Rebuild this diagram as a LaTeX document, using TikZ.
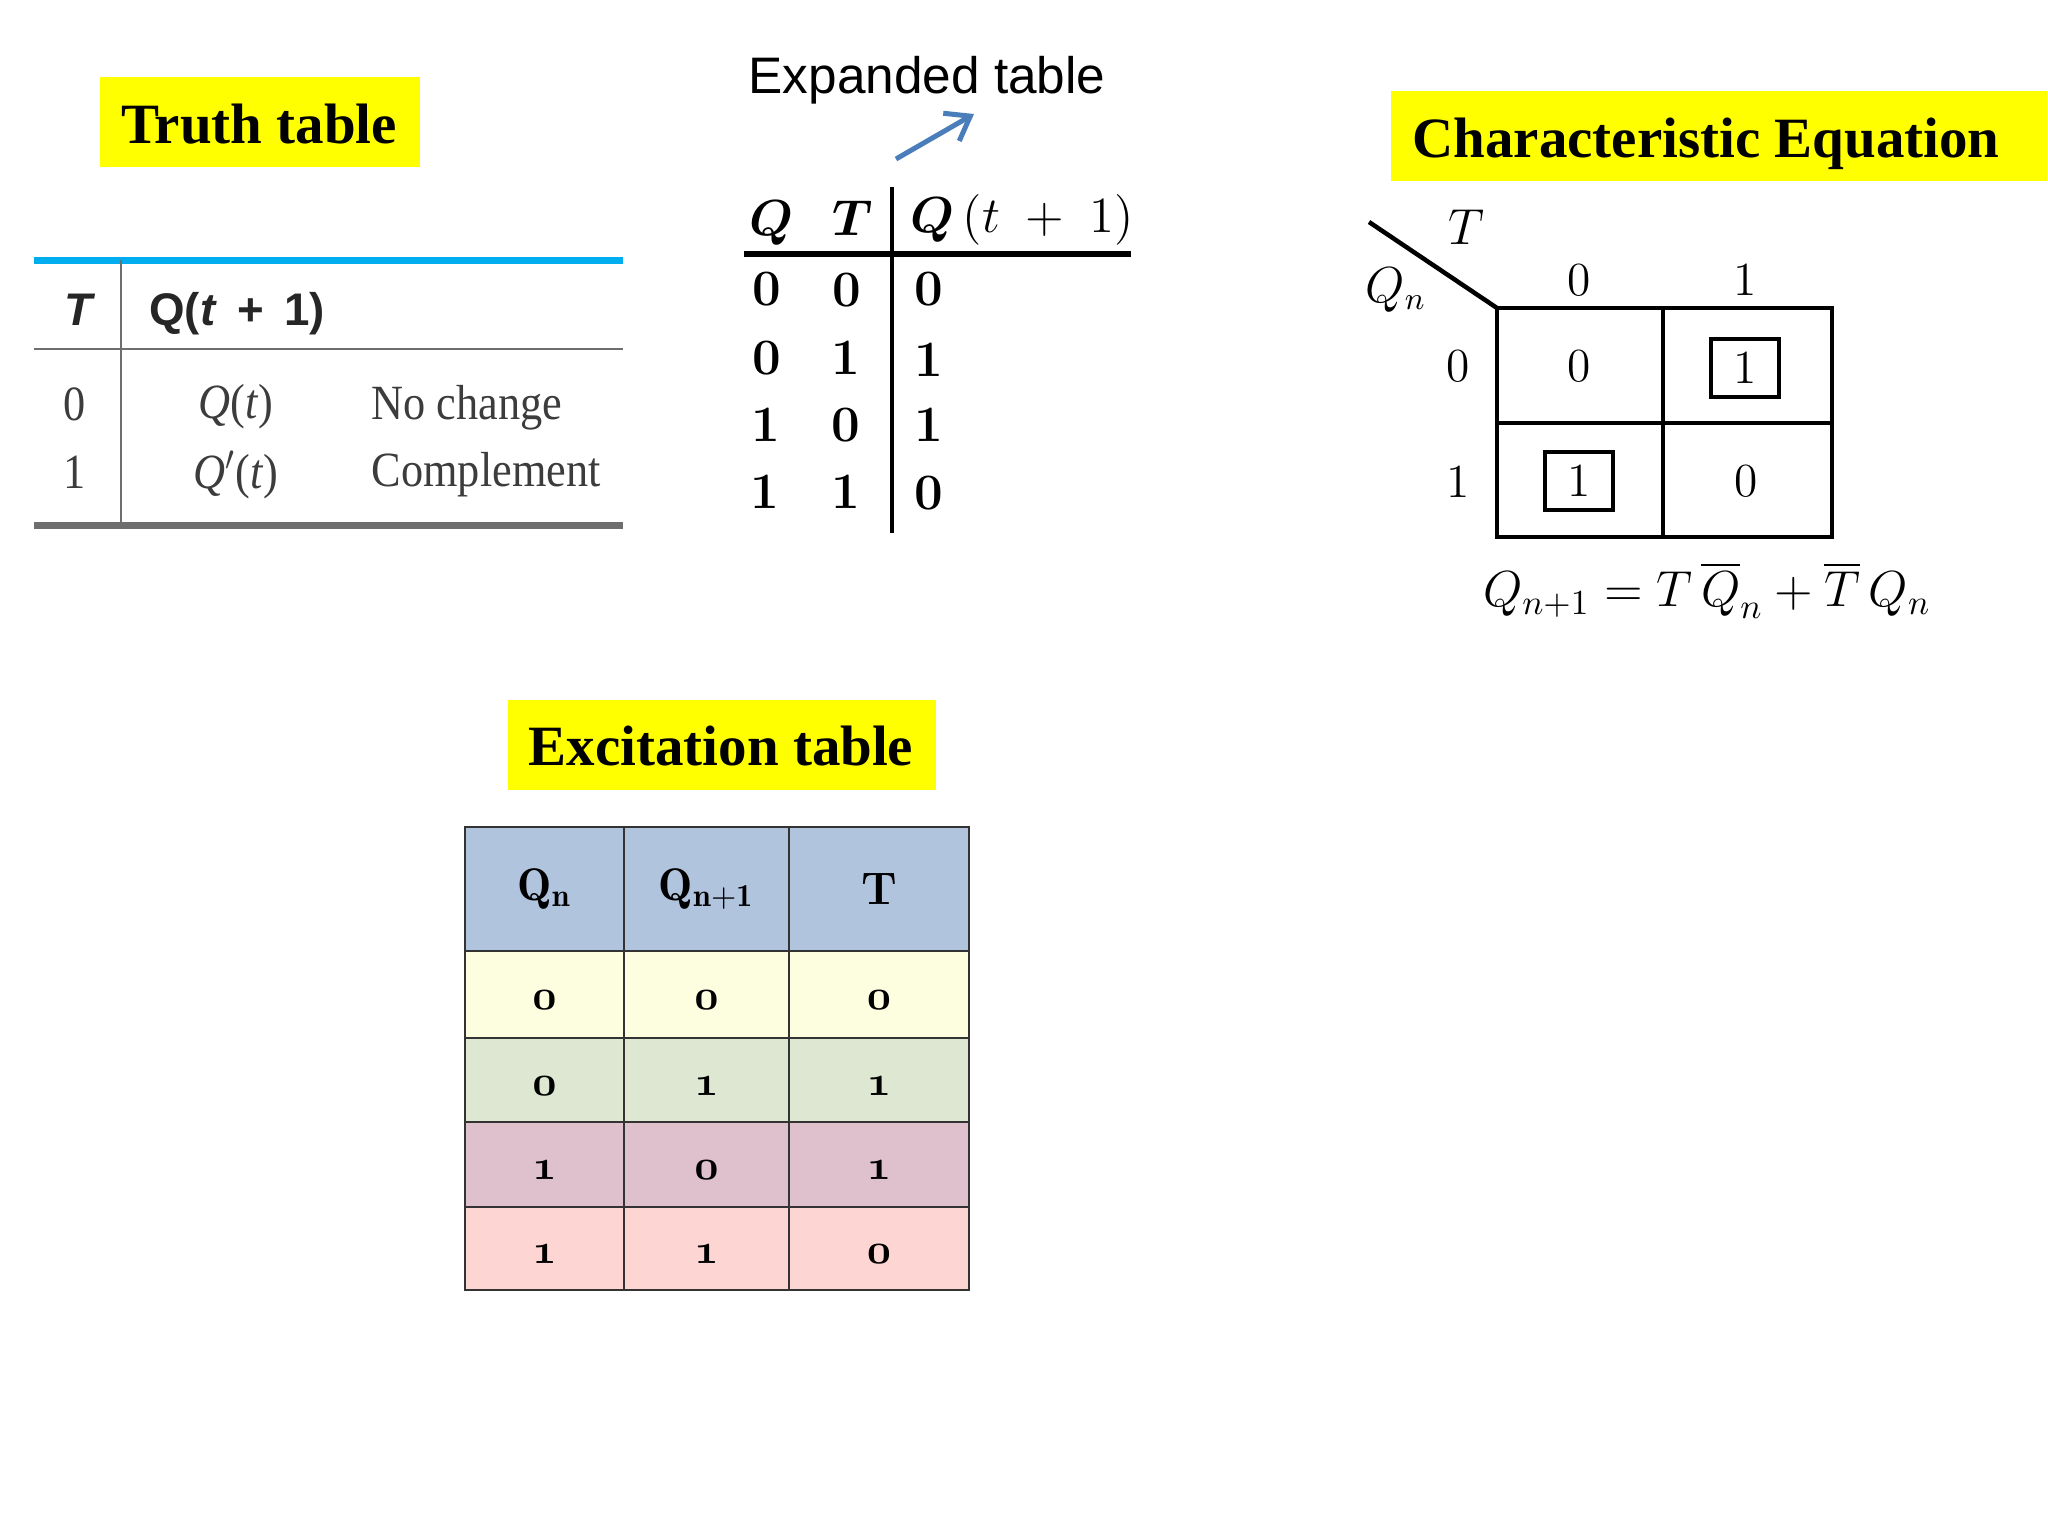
\documentclass[tikz,border=0pt]{standalone}
\usepackage{fontspec}
\usepackage{amsmath}
\newfontfamily\timesfont{Liberation Serif}
\newfontfamily\arialfont{Liberation Sans}
\newcommand{\oldnum}[1]{\rule{0pt}{3mm}{\fontencoding{OML}\fontfamily{cmm}\fontseries{b}\fontshape{it}\selectfont #1}}
\newcommand{\narrowtext}[1]{\scalebox{0.9}[1]{#1}}
\usetikzlibrary{arrows.meta,calc,positioning}
\definecolor{titleyellow}{RGB}{255,255,0}
\definecolor{headblue}{HTML}{B0C4DE}
\definecolor{rowyellow}{HTML}{FDFEE0}
\definecolor{rowgreen}{HTML}{DDE7D1}
\definecolor{rowmauve}{HTML}{DFC1CD}
\definecolor{rowpink}{HTML}{FDD5D3}
\definecolor{tablecyan}{HTML}{00AEEF}
\definecolor{tablegray}{HTML}{6E6E6E}
\definecolor{arrowblue}{HTML}{4A7EBB}
\definecolor{truthtext}{HTML}{3C3C3C}
\tikzset{
  titlebox/.style={fill=titleyellow,inner sep=0pt,font=\timesfont\bfseries\fontsize{16.2}{18}\selectfont},
  truthcell/.style={inner sep=0pt,text=truthtext,font=\timesfont\fontsize{14}{16}\selectfont},
  truthhead/.style={inner sep=0pt,text=black!85,font=\arialfont\bfseries\fontsize{13}{15}\selectfont},
  expdigit/.style={inner sep=0pt,font=\bfseries\fontsize{14.5}{16}\selectfont},
  kmdigit/.style={inner sep=0pt,font=\fontsize{13.5}{15}\selectfont},
  kmbox/.style={draw,line width=0.4mm,minimum width=0.68cm,minimum height=0.57cm,inner sep=0pt,font=\fontsize{13.5}{15}\selectfont},
  exccell/.style={draw=black!80,line width=0.2mm,inner sep=0pt,font=\bfseries\fontsize{13}{15}\selectfont}
}
\begin{document}
\begin{tikzpicture}[x=0.01cm,y=-0.01cm]
  \useasboundingbox (0,0) rectangle (2048,1536);

  \node[titlebox,minimum width=3.2cm,minimum height=0.9cm] (truthtitle) at (260,122) {};
  \node[titlebox,fill=none] (truthtext) at (259,124) {Truth table};
  \coordinate (truthtopL) at (34,260);
  \coordinate (truthtopR) at (623,260);
  \coordinate (truthmidL) at (34,349);
  \coordinate (truthmidR) at (623,349);
  \coordinate (truthbotL) at (34,525);
  \coordinate (truthbotR) at (623,525);
  \coordinate (truthvtop) at (121,260);
  \coordinate (truthvbot) at (121,525);
  \draw[tablecyan,line width=0.7mm] (truthtopL) -- (truthtopR);
  \draw[tablegray,line width=0.25mm] (truthmidL) -- (truthmidR);
  \draw[tablegray,line width=0.7mm] (truthbotL) -- (truthbotR);
  \draw[tablegray,line width=0.25mm] (truthvtop) -- (truthvbot);
  \node[truthhead] (truthT) at (78,310) {\itshape T};
  \node[truthhead] (truthQ) at (237,314) {Q(\textit{t}\, +\, 1)};
  \node[truthcell] (truthA) at (75,404) {\narrowtext{0}};
  \node[truthcell] (truthB) at (236,407) {\narrowtext{\textit{Q}(\textit{t})}};
  \node[truthcell,anchor=west] (truthC) at (371,408) {\narrowtext{No change}};
  \node[truthcell] (truthD) at (75,472) {\narrowtext{1}};
  \node[truthcell] (truthE) at (236,475) {\narrowtext{\textit{Q}$'$(\textit{t})}};
  \node[truthcell,anchor=west] (truthF) at (371,475) {\narrowtext{Complement}};

  \node[inner sep=0pt,font=\arialfont\fontsize{14.6}{16}\selectfont] (exptitle) at (927,80) {Expanded table};
  \coordinate (exparrowA) at (896,159);
  \coordinate (exparrowB) at (974,114);
  \draw[-{Straight Barb[length=2.2mm,width=3.2mm]},arrowblue,line width=0.5mm] (exparrowA) -- (exparrowB);
  \coordinate (expvtop) at (892,187);
  \coordinate (expvbot) at (892,533);
  \coordinate (exphL) at (744,254);
  \coordinate (exphR) at (1131,254);
  \draw[line width=0.45mm] (expvtop) -- (expvbot);
  \draw[line width=0.55mm] (exphL) -- (exphR);
  \node[expdigit] (expQ) at (771,223) {$\boldsymbol{Q}$};
  \node[expdigit] (expT) at (853,218) {$\boldsymbol{T}$};
  \node[inner sep=0pt,font=\fontsize{14.5}{16}\selectfont] (expN) at (1022,220) {$\boldsymbol{Q}\,(t\;+\;1)$};
  \node[expdigit] (expA) at (767,289) {0};
  \node[expdigit] (expB) at (847,290) {0};
  \node[expdigit] (expC) at (929,289) {0};
  \node[expdigit] (expD) at (767,358) {0};
  \node[expdigit] (expE) at (846,358) {1};
  \node[expdigit] (expF) at (929,360) {1};
  \node[expdigit] (expG) at (766,425) {1};
  \node[expdigit] (expH) at (846,425) {0};
  \node[expdigit] (expI) at (929,425) {1};
  \node[expdigit] (expJ) at (765,492) {1};
  \node[expdigit] (expK) at (846,492) {1};
  \node[expdigit] (expL) at (929,493) {0};

  \node[titlebox,minimum width=6.56cm,minimum height=0.89cm] (chartitle) at (1719,136) {};
  \node[titlebox,fill=none] (chartext) at (1706,144) {Characteristic Equation};
  \coordinate (kmTL) at (1497,308);
  \coordinate (kmBR) at (1832,537);
  \coordinate (kmdiag) at (1369,222);
  \coordinate (kmvtop) at (1663,308);
  \coordinate (kmvbot) at (1663,537);
  \coordinate (kmhL) at (1497,423);
  \coordinate (kmhR) at (1832,423);
  \draw[line width=0.45mm] (kmTL) rectangle (kmBR);
  \draw[line width=0.45mm] (kmvtop) -- (kmvbot);
  \draw[line width=0.45mm] (kmhL) -- (kmhR);
  \draw[line width=0.45mm] (kmdiag) -- (kmTL);
  \node[kmdigit] (kmT) at (1466,227) {$T$};
  \node[kmdigit] (kmQ) at (1396,290) {$Q_n$};
  \node[kmdigit] (kmtop0) at (1579,280) {0};
  \node[kmdigit] (kmtop1) at (1745,280) {1};
  \node[kmdigit] (kmleft0) at (1458,366) {0};
  \node[kmdigit] (kmleft1) at (1458,482) {1};
  \node[kmdigit] (kmA) at (1579,366) {0};
  \node[kmbox] (kmB) at (1745,368) {1};
  \node[kmbox] (kmC) at (1579,481) {1};
  \node[kmdigit] (kmD) at (1746,481) {0};
  \node[inner sep=0pt,font=\fontsize{14.6}{16}\selectfont] (kmeq) at (1707,590) {$Q_{n+1} = T\,\overline{Q}_n + \overline{T}\,Q_n$};

  \node[titlebox,minimum width=4.28cm,minimum height=0.89cm] (exctitle) at (722,745) {};
  \node[titlebox,fill=none] (exctext) at (721,746) {Excitation table};
  \node[exccell,fill=headblue,minimum width=1.59cm,minimum height=1.24cm] (excA) at (544.5,889) {$\mathbf{Q_n}$};
  \node[exccell,fill=headblue,minimum width=1.65cm,minimum height=1.24cm] (excB) at (706.5,889) {$\mathbf{Q_{n+1}}$};
  \node[exccell,fill=headblue,minimum width=1.80cm,minimum height=1.24cm] (excC) at (879,889) {T};
  \node[exccell,fill=rowyellow,minimum width=1.59cm,minimum height=0.87cm] (excD) at (544.5,994.5) {\oldnum{0}};
  \node[exccell,fill=rowyellow,minimum width=1.65cm,minimum height=0.87cm] (excE) at (706.5,994.5) {\oldnum{0}};
  \node[exccell,fill=rowyellow,minimum width=1.80cm,minimum height=0.87cm] (excF) at (879,994.5) {\oldnum{0}};
  \node[exccell,fill=rowgreen,minimum width=1.59cm,minimum height=0.84cm] (excG) at (544.5,1080) {\oldnum{0}};
  \node[exccell,fill=rowgreen,minimum width=1.65cm,minimum height=0.84cm] (excH) at (706.5,1080) {\oldnum{1}};
  \node[exccell,fill=rowgreen,minimum width=1.80cm,minimum height=0.84cm] (excI) at (879,1080) {\oldnum{1}};
  \node[exccell,fill=rowmauve,minimum width=1.59cm,minimum height=0.85cm] (excJ) at (544.5,1164.5) {\oldnum{1}};
  \node[exccell,fill=rowmauve,minimum width=1.65cm,minimum height=0.85cm] (excK) at (706.5,1164.5) {\oldnum{0}};
  \node[exccell,fill=rowmauve,minimum width=1.80cm,minimum height=0.85cm] (excL) at (879,1164.5) {\oldnum{1}};
  \node[exccell,fill=rowpink,minimum width=1.59cm,minimum height=0.83cm] (excM) at (544.5,1248.5) {\oldnum{1}};
  \node[exccell,fill=rowpink,minimum width=1.65cm,minimum height=0.83cm] (excN) at (706.5,1248.5) {\oldnum{1}};
  \node[exccell,fill=rowpink,minimum width=1.80cm,minimum height=0.83cm] (excO) at (879,1248.5) {\oldnum{0}};
\end{tikzpicture}
\end{document}
